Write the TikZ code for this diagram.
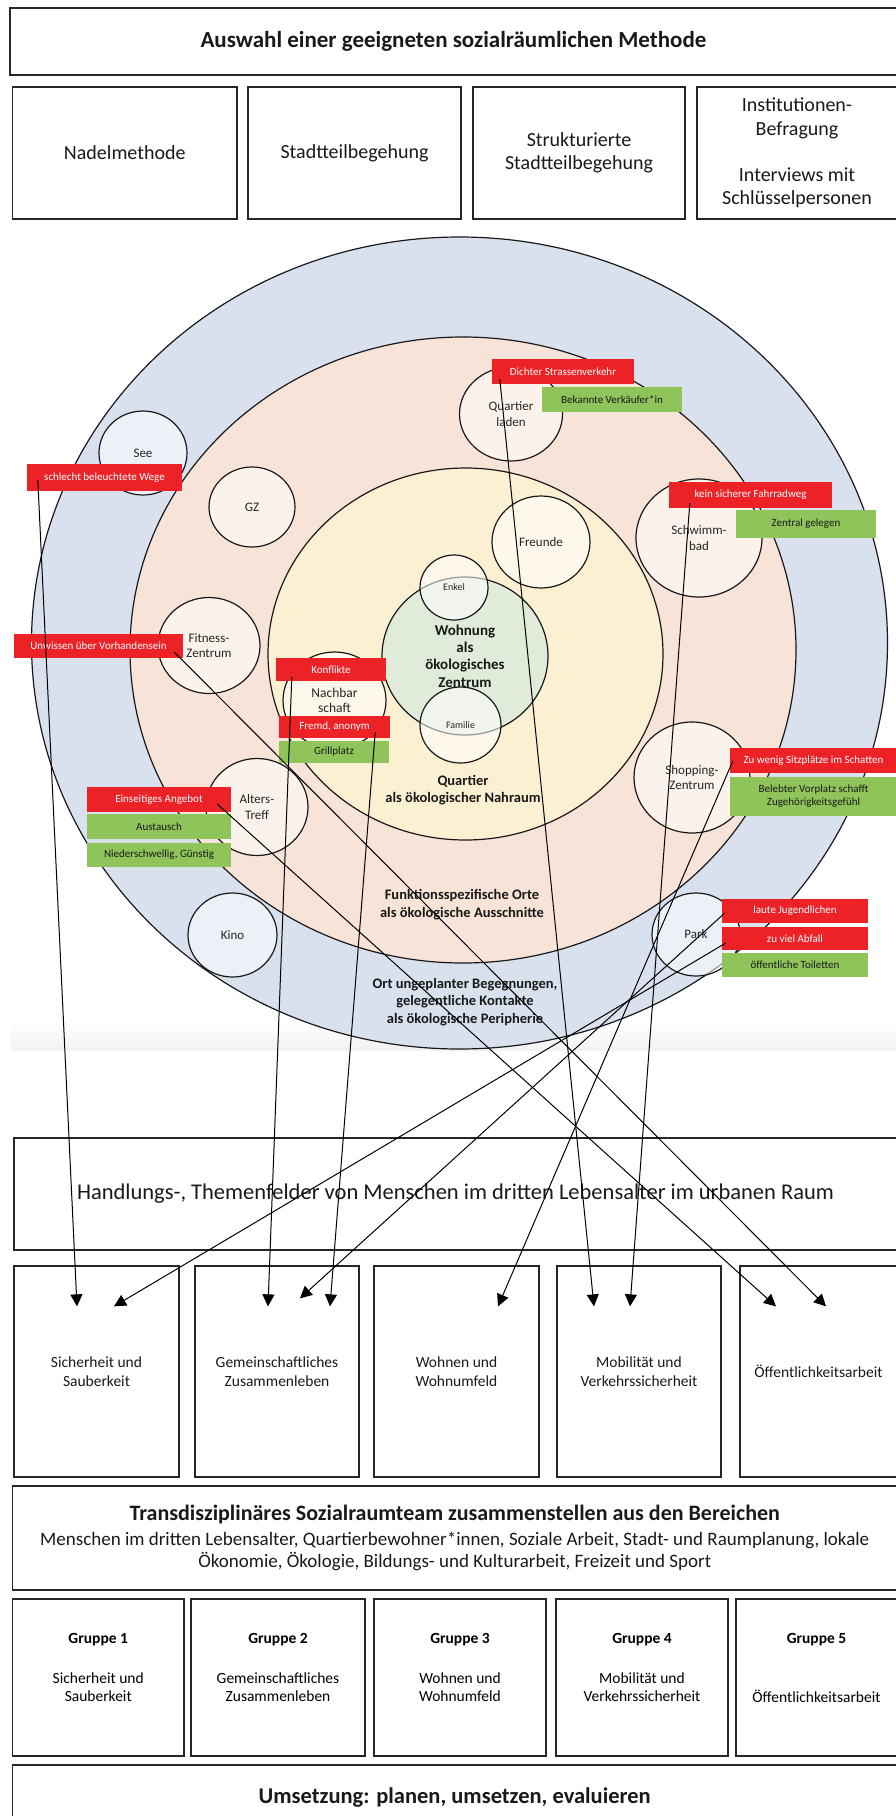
\documentclass[tikz,border=0pt]{standalone}
\usepackage{fontspec}
\setmainfont{Carlito}
\usetikzlibrary{shapes.geometric,arrows.meta,calc}

\newcommand{\fsz}[2]{\fontsize{#1}{#2}\selectfont}

\definecolor{ringBlue}{HTML}{D9E1EE}
\definecolor{ringPeach}{HTML}{F7E3D7}
\definecolor{ringYellow}{HTML}{FCF0D3}
\definecolor{ringGreen}{HTML}{E0EBD9}
\definecolor{tagRed}{HTML}{EC2227}
\definecolor{tagGreen}{HTML}{8FC45A}

\tikzset{
  frame/.style={draw=black!85, line width=1.3pt, inner sep=0pt, align=center, text=black!90},
  method/.style={frame, minimum height=132pt, font=\fsz{20}{23.3}},
  field/.style={frame, minimum height=211pt, font=\fsz{15.5}{18.5}},
  grp/.style={frame, minimum height=157pt},
  ring/.style={draw=black!90, line width=1.2pt},
  spot/.style={ellipse, draw=black!90, line width=1.2pt, fill=white, fill opacity=0.55,
    text opacity=1, inner sep=0pt, align=center, font=\fsz{13}{15.5}, text=black!85},
  ringtext/.style={font=\bfseries\fsz{14.5}{17.5}, align=center, text=black!90},
  tag/.style={inner sep=0pt, align=center, font=\fsz{11}{13}},
  redtag/.style={tag, fill=tagRed, text=white},
  greentag/.style={tag, fill=tagGreen, text=black!90},
  link/.style={line width=1pt, -{Triangle[length=12pt,width=12pt]}},
}

\begin{document}
\begin{tikzpicture}[x=1pt, y=-1pt]

    \useasboundingbox (0,0) rectangle (895,1816);

    % Title and methods
    \node[frame, minimum width=887pt, minimum height=67pt, font=\bfseries\fsz{23}{27}] (title) at (453.5,41.5)
        {Auswahl einer geeigneten sozialräumlichen Methode};

    \node[method, minimum width=224.5pt] (nadel) at (124.75,153) {Nadelmethode};
    \node[method, minimum width=213pt] (begehung) at (354.5,153) {Stadtteilbegehung};
    \node[method, minimum width=212pt] (struktur) at (579,153) {Strukturierte\\Stadtteilbegehung};
    \node[method, minimum width=200pt] (befragung) at (797,153)
        {Institutionen-\\Befragung\\[23pt]Interviews mit\\Schlüsselpersonen};

    %%%% Rings
    \shade[top color=white, bottom color=black!5] (11,1022) rectangle (897,1050);

    \draw[ring, fill=ringBlue] (459.5,643) ellipse [x radius=428pt, y radius=406pt];
    \draw[ring, fill=ringPeach] (463,650) ellipse [x radius=333pt, y radius=313pt];
    \draw[ring, fill=ringYellow] (465.5,654) ellipse [x radius=197.5pt, y radius=186pt];
    \draw[ring, fill=ringGreen] (465,656) ellipse [x radius=83pt, y radius=79pt];

    \node[ringtext, font=\bfseries\fsz{15}{17.3}] (wohnung) at (465,656) {Wohnung\\als\\ökologisches\\Zentrum};
    \node[ringtext] (quartier) at (463,790) {Quartier\\als ökologischer Nahraum};
    \node[ringtext] (funktion) at (462,904.5) {Funktionsspezifische Orte\\als ökologische Ausschnitte};
    \node[ringtext] (peripherie) at (465,1002) {Ort ungeplanter Begegnungen,\\gelegentliche Kontakte\\als ökologische Peripherie};

    % Places
    \node[spot, minimum width=88pt, minimum height=84pt] (see) at (143,453) {See};
    \node[spot, minimum width=86pt, minimum height=80pt] (gz) at (252,507) {GZ};
    \node[spot, minimum width=102pt, minimum height=96pt] (fitness) at (209,645.5) {Fitness-\\Zentrum};
    \node[spot, minimum width=102pt, minimum height=97pt] (alterstreff) at (257,807) {Alters-\\Treff};
    \node[spot, minimum width=89pt, minimum height=84pt] (kino) at (232.5,935) {Kino};
    \node[spot, minimum width=103pt, minimum height=94pt] (laden) at (511,414) {Quartier\\laden};
    \node[spot, minimum width=98pt, minimum height=92pt] (freunde) at (541,542) {Freunde};
    \node[spot, minimum width=126pt, minimum height=118pt] (bad) at (699,538) {Schwimm-\\bad};
    \node[spot, minimum width=116pt, minimum height=111pt] (shopping) at (692,777.5) {Shopping-\\Zentrum};
    \node[spot, minimum width=88pt, minimum height=83pt] (park) at (696,934.5) {Park};
    \node[spot, minimum width=103pt, minimum height=97pt, font=\fsz{13.5}{15.5}] (nachbar) at (334.5,700.5) {Nachbar\\schaft};
    \node[spot, minimum width=68pt, minimum height=65pt, font=\fsz{10}{12}] (enkel) at (454,587.5) {Enkel};
    \node[spot, minimum width=81pt, minimum height=76pt, font=\fsz{10}{12}] (familie) at (460.5,725) {Familie};

    % Findings
    \node[redtag, minimum width=142pt, minimum height=25pt] (dichter) at (563,371.5) {Dichter Strassenverkehr};
    \node[greentag, minimum width=140pt, minimum height=25pt] (bekannt) at (612,399.5) {Bekannte Verkäufer*in};
    \node[redtag, minimum width=163pt, minimum height=26pt] (fahrrad) at (750.5,495) {kein sicherer Fahrradweg};
    \node[greentag, minimum width=140pt, minimum height=28pt] (zentral) at (806,524) {Zentral gelegen};
    \node[redtag, minimum width=155pt, minimum height=27pt] (dunkel) at (104.5,477.5) {schlecht beleuchtete Wege};
    \node[redtag, minimum width=169pt, minimum height=24pt] (unwissen) at (98.5,646) {Unwissen über Vorhandensein};
    \node[redtag, minimum width=110pt, minimum height=23pt] (konflikt) at (331,669.5) {Konflikte};
    \node[redtag, minimum width=111pt, minimum height=22pt] (fremd) at (334.5,727) {Fremd, anonym};
    \node[greentag, minimum width=110pt, minimum height=22pt] (grill) at (334,752) {Grillplatz};
    \node[redtag, minimum width=144pt, minimum height=25pt] (einseitig) at (159,799.5) {Einseitiges Angebot};
    \node[greentag, minimum width=144pt, minimum height=25pt] (austausch) at (159,826.5) {Austausch};
    \node[greentag, minimum width=144pt, minimum height=24pt] (guenstig) at (159,855) {Niederschwellig, Günstig};
    \node[redtag, minimum width=167pt, minimum height=25pt] (schatten) at (813.5,760.5) {Zu wenig Sitzplätze im Schatten};
    \node[greentag, minimum width=167pt, minimum height=39pt] (vorplatz) at (813.5,796.5) {Belebter Vorplatz schafft\\Zugehörigkeitsgefühl};
    \node[redtag, minimum width=146pt, minimum height=24pt] (jugend) at (795,911) {laute Jugendlichen};
    \node[redtag, minimum width=146pt, minimum height=23pt] (abfall) at (795,938.5) {zu viel Abfall};
    \node[greentag, minimum width=146pt, minimum height=24pt] (toilette) at (795,965) {öffentliche Toiletten};

    %%%% Fields
    \node[frame, minimum width=883pt, minimum height=112pt, font=\fsz{22.5}{26}] (felder) at (455.5,1194)
        {Handlungs-, Themenfelder von Menschen im dritten Lebensalter im urbanen Raum};

    \node[field, minimum width=165pt] (sicher) at (96.5,1371.5) {Sicherheit und\\Sauberkeit};
    \node[field, minimum width=164pt] (gemein) at (277,1371.5) {Gemeinschaftliches\\Zusammenleben};
    \node[field, minimum width=165pt] (wohnen) at (456.5,1371.5) {Wohnen und\\Wohnumfeld};
    \node[field, minimum width=164pt] (mobil) at (639,1371.5) {Mobilität und\\Verkehrssicherheit};
    \node[field, minimum width=157pt] (oeffentlich) at (818.5,1371.5) {Öffentlichkeitsarbeit};

    %%%% Team and groups
    \node[frame, minimum width=884.5pt, minimum height=104pt, font=\fsz{19}{22}] (team) at (454.75,1538)
        {{\bfseries\fsz{22}{26}Transdisziplinäres Sozialraumteam zusammenstellen aus den Bereichen}\\[3pt]
         Menschen im dritten Lebensalter, Quartierbewohner*innen, Soziale Arbeit, Stadt- und Raumplanung, lokale\\
         Ökonomie, Ökologie, Bildungs- und Kulturarbeit, Freizeit und Sport};

    \node[grp, minimum width=171.5pt] (grp1) at (98.25,1677.5) {};
    \node[grp, minimum width=174pt] (grp2) at (278,1677.5) {};
    \node[grp, minimum width=172pt] (grp3) at (460,1677.5) {};
    \node[grp, minimum width=172pt] (grp4) at (642,1677.5) {};
    \node[grp, minimum width=161pt] (grp5) at (816.5,1677.5) {};

    \node[font=\bfseries\fsz{15.5}{18.5}] (grp1t) at (98.25,1640) {Gruppe 1};
    \node[font=\bfseries\fsz{15.5}{18.5}] (grp2t) at (278,1640) {Gruppe 2};
    \node[font=\bfseries\fsz{15.5}{18.5}] (grp3t) at (460,1640) {Gruppe 3};
    \node[font=\bfseries\fsz{15.5}{18.5}] (grp4t) at (642,1640) {Gruppe 4};
    \node[font=\bfseries\fsz{15.5}{18.5}] (grp5t) at (816.5,1640) {Gruppe 5};

    \node[font=\fsz{15.5}{18.5}, align=center] (grp1b) at (98.25,1687) {Sicherheit und\\Sauberkeit};
    \node[font=\fsz{15.5}{18.5}, align=center] (grp2b) at (278,1687) {Gemeinschaftliches\\Zusammenleben};
    \node[font=\fsz{15.5}{18.5}, align=center] (grp3b) at (460,1687) {Wohnen und\\Wohnumfeld};
    \node[font=\fsz{15.5}{18.5}, align=center] (grp4b) at (642,1687) {Mobilität und\\Verkehrssicherheit};
    \node[font=\fsz{15.5}{18.5}, align=center] (grp5b) at (816.5,1696) {Öffentlichkeitsarbeit};

    \node[frame, minimum width=884.5pt, minimum height=65pt, font=\bfseries\fsz{22.5}{26}] (umsetzung) at (454.75,1797.5)
        {Umsetzung: planen, umsetzen, evaluieren};

    %%%% Links from findings to fields
    \draw[link] ($(dunkel.west)+(11,2.5)$) -- ($(sicher.north)+(-19.5,41)$);
    \draw[link] ($(abfall.west)+(4,4.5)$) -- ($(sicher.north)+(17.5,41)$);
    \draw[link] ($(konflikt.west)+(16,7.5)$) -- ($(gemein.north)+(-9,41)$);
    \draw[link] ($(jugend.west)+(3,2)$) -- ($(gemein.north)+(23,33)$);
    \draw[link] ($(fremd.east)+(-15,5)$) -- ($(gemein.north)+(53,41)$);
    \draw[link] ($(schatten.west)+(3,0.5)$) -- ($(wohnen.north)+(41.5,41)$);
    \draw[link] ($(dichter.west)+(8,7.5)$) -- ($(mobil.north)+(-45,41)$);
    \draw[link] ($(fahrrad.west)+(21,8)$) -- ($(mobil.north)+(-9,41)$);
    \draw[link] ($(einseitig.east)+(-14,4.5)$) -- ($(oeffentlich.north)+(-42.5,41)$);
    \draw[link] ($(unwissen.east)+(-9,6)$) -- ($(oeffentlich.north)+(7.5,41)$);

\end{tikzpicture}
\end{document}
